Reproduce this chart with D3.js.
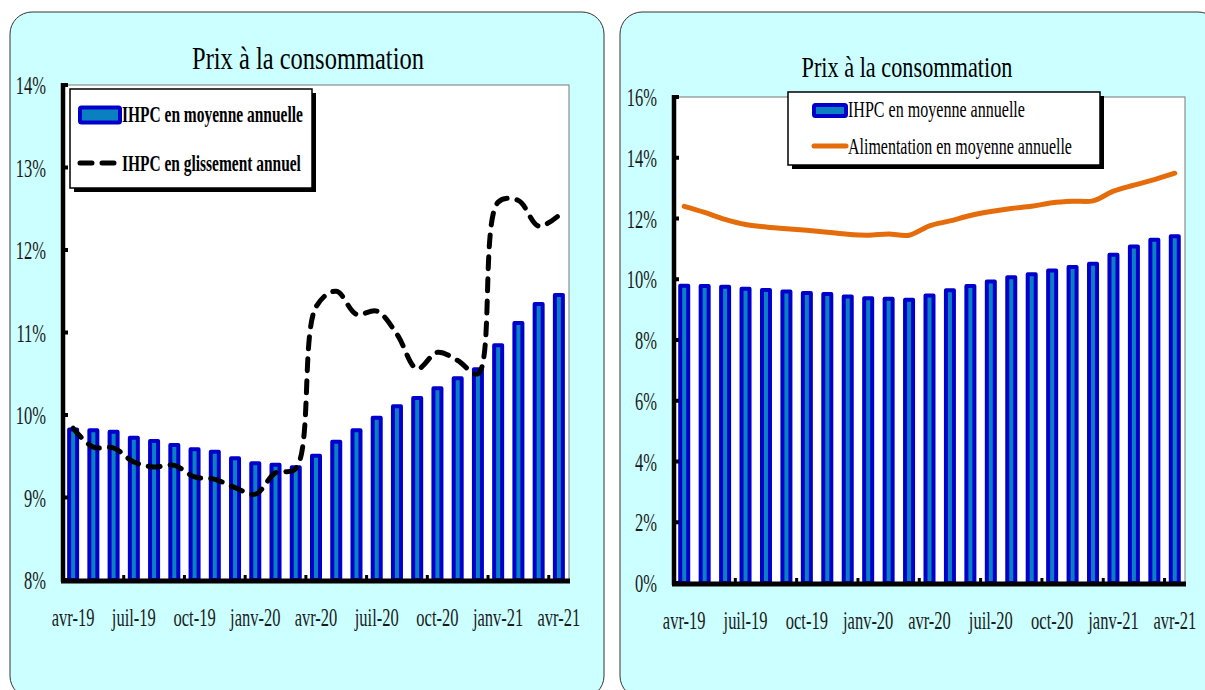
<!DOCTYPE html>
<meta charset="utf-8">
<style>
body { margin: 0; background: #fff; }
svg { display: block; }
text { font-family: "Liberation Serif", serif; fill: #1a1a1a; }
.title { font-size: 32px; fill: #000; }
.tick text { font-size: 25px; }
.legend text { font-size: 23px; fill: #000; }
</style>
<svg width="1205" height="690"></svg>
<script src="https://cdn.jsdelivr.net/npm/d3@7"></script>
<script>

var months = ["avr-19", "mai-19", "juin-19", "juil-19", "août-19", "sept-19", "oct-19", "nov-19", "déc-19",
              "janv-20", "févr-20", "mars-20", "avr-20", "mai-20", "juin-20", "juil-20", "août-20", "sept-20",
              "oct-20", "nov-20", "déc-20", "janv-21", "févr-21", "mars-21", "avr-21"];

var tickMonths = ["avr-19", "juil-19", "oct-19", "janv-20", "avr-20", "juil-20", "oct-20", "janv-21", "avr-21"];

// IHPC en moyenne annuelle (%)
var ihpcMoyenne = [9.85, 9.84, 9.82, 9.75, 9.71, 9.66, 9.61, 9.58, 9.50, 9.44, 9.42, 9.39, 9.53,
                   9.70, 9.84, 9.99, 10.13, 10.23, 10.35, 10.47, 10.58, 10.87, 11.14, 11.37, 11.48];

// IHPC en glissement annuel (%)
var ihpcGlissement = [9.84, 9.61, 9.60, 9.43, 9.37, 9.39, 9.25, 9.22, 9.12, 9.04, 9.30, 9.35, 11.31,
                      11.50, 11.22, 11.26, 10.98, 10.56, 10.76, 10.66, 10.50, 12.58, 12.60, 12.29, 12.42];

// Alimentation en moyenne annuelle (%)
var alimentation = [12.40, 12.20, 11.97, 11.80, 11.72, 11.66, 11.61, 11.55, 11.48, 11.45, 11.49, 11.45, 11.76,
                    11.92, 12.10, 12.23, 12.33, 12.40, 12.52, 12.57, 12.58, 12.90, 13.10, 13.28, 13.49];

var leftTicks = [8, 9, 10, 11, 12, 13, 14];
var rightTicks = [0, 2, 4, 6, 8, 10, 12, 14, 16];

var blue = "#0000cc",
    teal = "#0a80c0",
    orange = "#e46c0a";

var svg = d3.select("svg");

// narrow the text horizontally around its anchor point (the original uses a condensed serif)
function squeeze(sel, k) {
  sel.each(function() {
    var t = d3.select(this),
        x = +t.attr("x") || 0;
    t.attr("transform", "translate(" + x + ",0) scale(" + k + ",1) translate(" + (-x) + ",0)");
  });
}

function fit(sel, w) {
  sel.each(function() {
    squeeze(d3.select(this), w / this.getComputedTextLength());
  });
}

function panel(p) {
  var g = svg.append("g");

  g.append("rect")
      .attr("x", p.px).attr("y", 12)
      .attr("width", p.pw).attr("height", 686)
      .attr("rx", 22).attr("ry", 22)
      .attr("fill", "#ccffff")
      .attr("stroke", "#333")
      .attr("stroke-width", 1);

  g.append("text")
      .attr("class", "title")
      .attr("x", p.titleX).attr("y", p.titleY)
      .attr("text-anchor", "middle")
      .style("font-size", p.titleSize + "px")
      .text("Prix à la consommation")
      .call(fit, p.titleW);

  var x = d3.scaleBand()
      .domain(months)
      .range([p.x0, p.x1]);

  var y = d3.scaleLinear()
      .domain(p.domain)
      .range([p.yb, p.yt]);

  g.append("rect")
      .attr("x", p.x0).attr("y", p.yt)
      .attr("width", p.x1 - p.x0).attr("height", p.yb - p.yt)
      .attr("fill", "#fff")
      .attr("stroke", "#777")
      .attr("stroke-width", 1);

  g.append("g").selectAll("rect")
      .data(ihpcMoyenne)
    .enter().append("rect")
      .attr("x", function(d, i) { return x(months[i]) + x.bandwidth() / 2 - 4; })
      .attr("y", function(d) { return y(d) + 2; })
      .attr("width", 8)
      .attr("height", function(d) { return p.yb - y(d) - 2; })
      .attr("fill", teal)
      .attr("stroke", blue)
      .attr("stroke-width", 4)
      .attr("stroke-linejoin", "round");

  var line = d3.line()
      .x(function(d, i) { return x(months[i]) + x.bandwidth() / 2; })
      .y(function(d) { return y(d); })
      .curve(d3.curveCatmullRom.alpha(0.5));

  if (p.dashed) {
    g.append("path")
        .datum(ihpcGlissement)
        .attr("d", line)
        .attr("fill", "none")
        .attr("stroke", "#000")
        .attr("stroke-width", 5)
        .attr("stroke-dasharray", "12,10")
        .attr("stroke-linecap", "round");
  } else {
    g.append("path")
        .datum(alimentation)
        .attr("d", line)
        .attr("fill", "none")
        .attr("stroke", orange)
        .attr("stroke-width", 5)
        .attr("stroke-linecap", "round")
        .attr("stroke-linejoin", "round");
  }

  // axes
  var yAxis = g.append("g")
      .attr("transform", "translate(" + p.x0 + ",0)")
      .call(d3.axisLeft(y).tickValues(p.ticks).tickFormat(function(d) { return d + "%"; })
            .tickSize(0).tickPadding(17));
  yAxis.select(".domain").remove();
  yAxis.selectAll("text").attr("dy", "0.34em").call(squeeze, 0.66);

  var xAxis = g.append("g")
      .attr("transform", "translate(0," + p.yb + ")")
      .call(d3.axisBottom(x).tickValues(tickMonths).tickSize(0).tickPadding(28));
  xAxis.select(".domain").remove();
  xAxis.selectAll("text").call(squeeze, 0.66);

  // inward ticks on y axis
  g.append("g").selectAll("rect")
      .data(p.ticks)
    .enter().append("rect")
      .attr("x", p.x0).attr("y", function(d) { return y(d) - 2; })
      .attr("width", 5).attr("height", 4)
      .attr("fill", "#000");

  // small upward ticks between quarters
  g.append("g").selectAll("rect")
      .data(months.filter(function(d, i) { return i > 0 && i % 3 === 0; }))
    .enter().append("rect")
      .attr("x", function(d) { return x(d) - 1.5; })
      .attr("y", p.yb - 5)
      .attr("width", 3).attr("height", 5)
      .attr("fill", "#000");

  g.append("line")
      .attr("x1", p.x0).attr("x2", p.x0)
      .attr("y1", p.yt - 2).attr("y2", p.yb + 2)
      .attr("stroke", "#000").attr("stroke-width", 4.5);

  g.append("line")
      .attr("x1", p.x0 - 2).attr("x2", p.x1 + 1)
      .attr("y1", p.yb + 1).attr("y2", p.yb + 1)
      .attr("stroke", "#000").attr("stroke-width", 5);

  // legend
  var lg = g.append("g").attr("class", "legend");
  var b = p.legend;

  lg.append("rect")
      .attr("x", b.x + 4).attr("y", b.y + 4)
      .attr("width", b.w).attr("height", b.h)
      .attr("fill", "#000");
  lg.append("rect")
      .attr("x", b.x).attr("y", b.y)
      .attr("width", b.w).attr("height", b.h)
      .attr("fill", "#fff")
      .attr("stroke", "#000")
      .attr("stroke-width", 1.5);

  lg.append("rect")
      .attr("x", b.sx + 2).attr("y", b.r1 - b.sh / 2 + 2)
      .attr("width", b.sw - 4).attr("height", b.sh - 4)
      .attr("rx", 1.5)
      .attr("fill", teal)
      .attr("stroke", blue)
      .attr("stroke-width", 4)
      .attr("stroke-linejoin", "round");

  var sample = lg.append("line")
      .attr("x1", b.sx + 2).attr("x2", b.sx + b.sw - 2)
      .attr("y1", b.r2).attr("y2", b.r2)
      .attr("stroke-width", 5)
      .attr("stroke-linecap", "round");
  if (p.dashed) sample.attr("stroke", "#000").attr("stroke-dasharray", "12,10");
  else sample.attr("stroke", orange);

  lg.append("text")
      .attr("x", b.tx).attr("y", b.r1 + 7)
      .style("font-weight", b.bold ? "bold" : "normal")
      .text("IHPC en moyenne annuelle")
      .call(fit, b.t1w);
  lg.append("text")
      .attr("x", b.tx).attr("y", b.r2 + 8)
      .style("font-weight", b.bold ? "bold" : "normal")
      .text(p.dashed ? "IHPC en glissement annuel" : "Alimentation en moyenne annuelle")
      .call(fit, b.t2w);
}

panel({
  px: 10, pw: 594,
  titleX: 308, titleY: 69, titleSize: 32, titleW: 232,
  x0: 63, x1: 569, yt: 85, yb: 580,
  domain: [8, 14], ticks: leftTicks,
  dashed: true,
  legend: { x: 70, y: 89, w: 242, h: 99, sx: 78, sw: 44, sh: 19, r1: 115, r2: 163,
            tx: 122, t1w: 181, t2w: 179, bold: true }
});

panel({
  px: 620, pw: 600,
  titleX: 907, titleY: 77, titleSize: 29, titleW: 211,
  x0: 674, x1: 1185, yt: 97, yb: 583,
  domain: [0, 16], ticks: rightTicks,
  dashed: false,
  legend: { x: 788, y: 92, w: 312, h: 73, sx: 812, sw: 36, sh: 15, r1: 110.5, r2: 146,
            tx: 848, t1w: 177, t2w: 224, bold: false }
});

</script>
